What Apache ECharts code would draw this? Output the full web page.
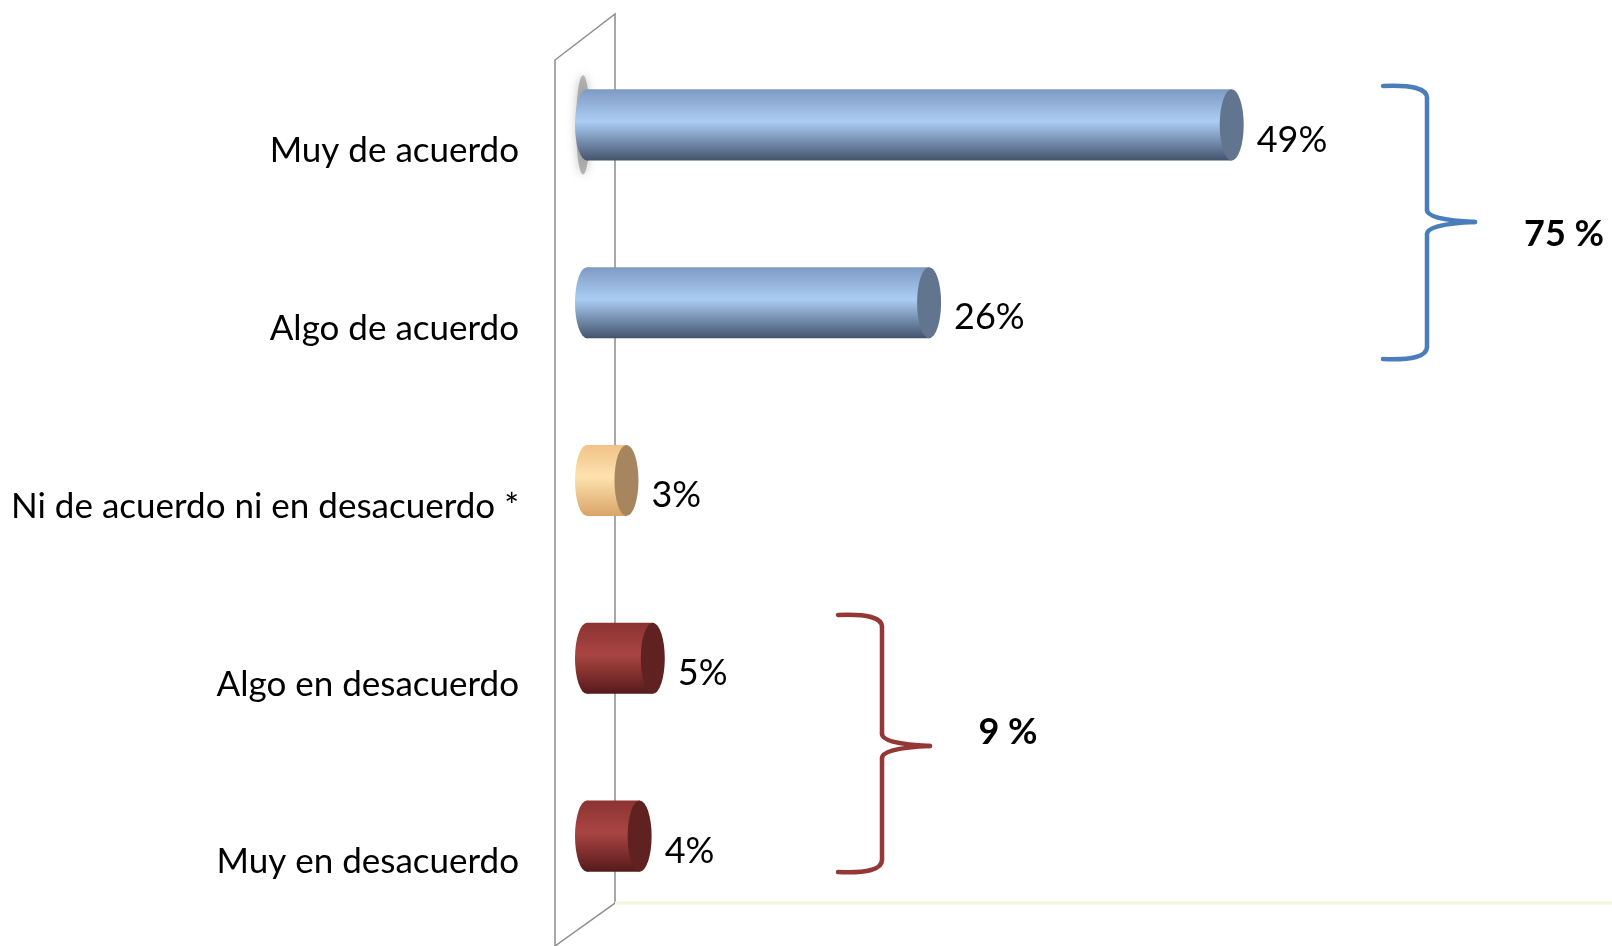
<!DOCTYPE html>
<html><head><meta charset="utf-8">
<script src="https://cdn.jsdelivr.net/npm/echarts/dist/echarts.min.js"></script>
<style>html,body{margin:0;padding:0;background:#fff}#c{width:1612px;height:946px}</style>
</head><body><div id="c"></div>
<script>
// ---- data ----
const categories = ['Muy de acuerdo', 'Algo de acuerdo', 'Ni de acuerdo ni en desacuerdo *', 'Algo en desacuerdo', 'Muy en desacuerdo'];
const values = [49, 26, 3, 5, 4];
const groups = ['agree', 'agree', 'neutral', 'disagree', 'disagree'];
const agreeIdx = [0, 1];
const disagreeIdx = [3, 4];

// ---- style ----
const palette = {
  agree:    { top: '#7d9ac3', mid: '#abcdf4', bot: '#43536d', cap: '#61758f' },
  neutral:  { top: '#f1c287', mid: '#fee2ae', bot: '#d8a468', cap: '#a7865f' },
  disagree: { top: '#8c3331', mid: '#a94543', bot: '#561a1a', cap: '#5f2221' }
};
const FONT = 'Lato, "Open Sans", sans-serif';

const chart = echarts.init(document.getElementById('c'), null, { renderer: 'canvas' });

function ellipsePath(cx, cy, rx, ry) {
  return 'M' + (cx - rx) + ' ' + cy +
    ' A' + rx + ' ' + ry + ' 0 1 0 ' + (cx + rx) + ' ' + cy +
    ' A' + rx + ' ' + ry + ' 0 1 0 ' + (cx - rx) + ' ' + cy + ' Z';
}

function renderItem(params, api) {
  const v = api.value(0), ci = api.value(1);
  const p0 = api.coord([0, ci]);
  const p1 = api.coord([v, ci]);
  const h = api.size([0, 1])[1] * 0.4;
  const rx = 12;
  const pal = palette[groups[params.dataIndex]];
  const grad = () => new echarts.graphic.LinearGradient(0, 0, 0, 1, [
    { offset: 0, color: pal.top }, { offset: 0.45, color: pal.mid }, { offset: 1, color: pal.bot }
  ]);
  const children = [];
  if (params.dataIndex === 0) {
    children.push({ type: 'path', shape: { pathData: ellipsePath(p0[0] - 4, p0[1], 7, h / 2 + 14) },
      style: { fill: 'rgba(110,110,110,0.45)', shadowBlur: 10, shadowColor: 'rgba(90,90,90,0.8)' } });
  }
  children.push(
    { type: 'path', shape: { pathData: ellipsePath(p0[0], p0[1], rx, h / 2) }, style: { fill: grad() } },
    { type: 'rect', shape: { x: p0[0], y: p0[1] - h / 2, width: p1[0] - p0[0], height: h }, style: { fill: grad() } },
    { type: 'path', shape: { pathData: ellipsePath(p1[0], p1[1], rx, h / 2) }, style: { fill: pal.cap } },
    { type: 'text', style: { text: v + '%', x: p1[0] + rx + 13, y: p1[1] + 15, verticalAlign: 'middle', align: 'left',
      font: '36px ' + FONT, fill: '#000' } }
  );
  return { type: 'group', children: children };
}

const sum = idx => idx.reduce((s, i) => s + values[i], 0);

// curly brace built from lines and quadratic curves
function brace(xl, xv, xt, yt, ym, yb, color) {
  const st = { stroke: color, lineWidth: 4.5, fill: null, lineCap: 'round' };
  const r = 12;
  return [
    { type: 'bezierCurve', z: 10, shape: { x1: xl, y1: yt, x2: xv, y2: yt + r, cpx1: xv, cpy1: yt - 2 }, style: st },
    { type: 'line', z: 10, shape: { x1: xv, y1: yt + r, x2: xv, y2: ym - r }, style: st },
    { type: 'bezierCurve', z: 10, shape: { x1: xv, y1: ym - r, x2: xt, y2: ym, cpx1: xv, cpy1: ym - 2 }, style: st },
    { type: 'bezierCurve', z: 10, shape: { x1: xt, y1: ym, x2: xv, y2: ym + r, cpx1: xv, cpy1: ym + 2 }, style: st },
    { type: 'line', z: 10, shape: { x1: xv, y1: ym + r, x2: xv, y2: yb - r }, style: st },
    { type: 'bezierCurve', z: 10, shape: { x1: xv, y1: yb - r, x2: xl, y2: yb, cpx1: xv, cpy1: yb + 2 }, style: st }
  ];
}

const option = {
  backgroundColor: '#fff',
  animation: false,
  grid: { left: 587, right: 104, top: 36, bottom: 21, containLabel: false },
  xAxis: { type: 'value', min: 0, max: 70, show: false },
  yAxis: {
    type: 'category', data: categories, inverse: true,
    axisLine: { show: false }, axisTick: { show: false }, splitLine: { show: false },
    axisLabel: { color: '#000', fontSize: 35, fontFamily: FONT, margin: 68,
      verticalAlign: 'top', lineHeight: 52 }
  },
  graphic: [
    { type: 'polyline', z: 0, shape: { points: [[555, 946], [555, 60], [615, 14], [615, 903], [555, 946]] },
      style: { stroke: '#8c8c8c', lineWidth: 1.5, fill: null } },
    { type: 'line', z: 0, shape: { x1: 615, y1: 903, x2: 1612, y2: 903 }, style: { stroke: '#f4f6d8', lineWidth: 3 } }
  ]
    .concat(brace(1383, 1427, 1475, 86, 222, 359, '#4a7ebb'))
    .concat(brace(838, 882, 930, 615, 746, 872, '#953735'))
    .concat([
      { type: 'text', z: 10, style: { text: sum(agreeIdx) + ' %', x: 1564, y: 234, align: 'center', verticalAlign: 'middle',
        font: 'bold 36px ' + FONT, fill: '#000' } },
      { type: 'text', z: 10, style: { text: sum(disagreeIdx) + ' %', x: 1008, y: 732, align: 'center', verticalAlign: 'middle',
        font: 'bold 36px ' + FONT, fill: '#000' } }
    ]),
  series: [{
    type: 'custom', z: 5,
    renderItem: renderItem,
    encode: { x: 0, y: 1 },
    data: values.map((v, i) => [v, i])
  }]
};
chart.setOption(option);
</script>
</body></html>
